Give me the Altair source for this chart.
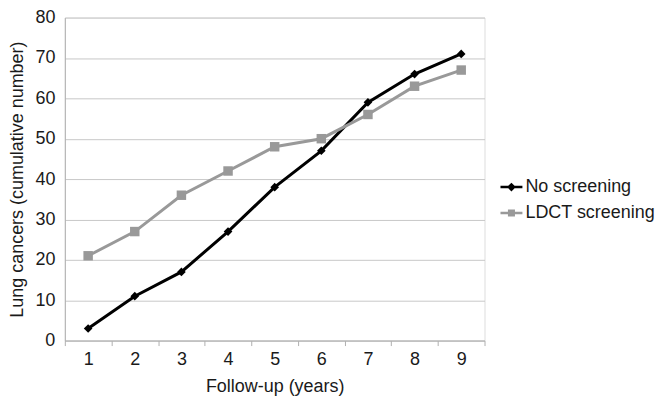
import altair as alt
import pandas as pd

years = [1, 2, 3, 4, 5, 6, 7, 8, 9]
no_screening = [3, 11, 17, 27, 38, 47, 59, 66, 71]
ldct_screening = [21, 27, 36, 42, 48, 50, 56, 63, 67]
series_names = ["No screening", "LDCT screening"]
series_colors = ["#000000", "#999999"]
series_shapes = ["diamond", "square"]
series_sizes = [75, 90]
y_ticks = [0, 10, 20, 30, 40, 50, 60, 70, 80]
x_ticks = [0.5, 1, 1.5, 2, 2.5, 3, 3.5, 4, 4.5, 5, 5.5, 6, 6.5, 7, 7.5, 8, 8.5, 9, 9.5]
# legend glyphs: short line with the series marker on it (clockwise subpaths)
legend_glyphs = [
    "M-1,-0.12L1,-0.12L1,0.12L-1,0.12Z M0,-0.4L0.4,0L0,0.4L-0.4,0Z",
    "M-1,-0.12L1,-0.12L1,0.12L-1,0.12Z M-0.32,-0.32L0.32,-0.32L0.32,0.32L-0.32,0.32Z",
]

rows = []
for s, vals in zip(series_names, [no_screening, ldct_screening]):
    for yr, v in zip(years, vals):
        rows.append({"series": s, "year": yr, "value": v})
df = pd.DataFrame(rows)

FONT = "Liberation Sans"
FS = 18
TXT = "#1a1a1a"
AX = "#b0b0b0"

x = alt.X(
    "year:Q",
    scale=alt.Scale(domain=[0.5, 9.5], nice=False, zero=False),
    axis=alt.Axis(
        values=x_ticks,
        title="Follow-up (years)",
        labelExpr="datum.value % 1 == 0 ? format(datum.value, 'd') : ''",
        tickOpacity={"condition": {"test": "datum.value % 1 == 0", "value": 0}, "value": 1},
        tickSize=5,
        tickColor=AX,
        domainColor=AX,
        grid=False,
        labelFontSize=FS,
        labelFont=FONT,
        labelColor=TXT,
        labelPadding=5,
        titleFontSize=FS,
        titleFont=FONT,
        titleColor=TXT,
        titleFontWeight="normal",
        titlePadding=9,
    ),
)
y = alt.Y(
    "value:Q",
    scale=alt.Scale(domain=[0, 80], nice=False),
    axis=alt.Axis(
        values=y_ticks,
        title="Lung cancers (cumulative number)",
        ticks=False,
        domainColor=AX,
        gridColor="#c8c8c8",
        labelFontSize=FS,
        labelFont=FONT,
        labelColor=TXT,
        labelPadding=10,
        titleFontSize=FS,
        titleFont=FONT,
        titleColor=TXT,
        titleFontWeight="normal",
        titlePadding=8,
    ),
)

leg = alt.Legend(
    orient="none",
    legendX=437,
    legendY=159,
    title=None,
    labelFontSize=FS,
    labelFont=FONT,
    labelColor=TXT,
    symbolSize=484,
    symbolOpacity=1,
    symbolStrokeWidth=0,
    rowPadding=6,
    labelOffset=3,
)

color_scale = alt.Scale(domain=series_names, range=series_colors)
color = alt.Color("series:N", scale=color_scale, sort=series_names, legend=leg)

base = alt.Chart(df)
lines = base.mark_line(strokeWidth=3).encode(x=x, y=y, color=color, order="year:Q")

point_layers = []
for name, shp, sz in zip(series_names, series_shapes, series_sizes):
    point_layers.append(
        base.transform_filter(alt.datum.series == name)
        .mark_point(filled=True, opacity=1, shape=shp, size=sz)
        .encode(x=x, y=y, color=color)
    )

legend_layer = base.mark_point(filled=True, opacity=0).encode(
    x=x,
    y=y,
    color=color,
    shape=alt.Shape(
        "series:N",
        scale=alt.Scale(domain=series_names, range=legend_glyphs),
        sort=series_names,
        legend=leg,
    ),
)

chart = (
    alt.layer(lines, *point_layers, legend_layer)
    .properties(width=421, height=324, padding=0)
    .configure_view(stroke=None)
    .configure(background="white")
)

chart.save("out.html", embed_options={"renderer": "svg", "actions": False})
